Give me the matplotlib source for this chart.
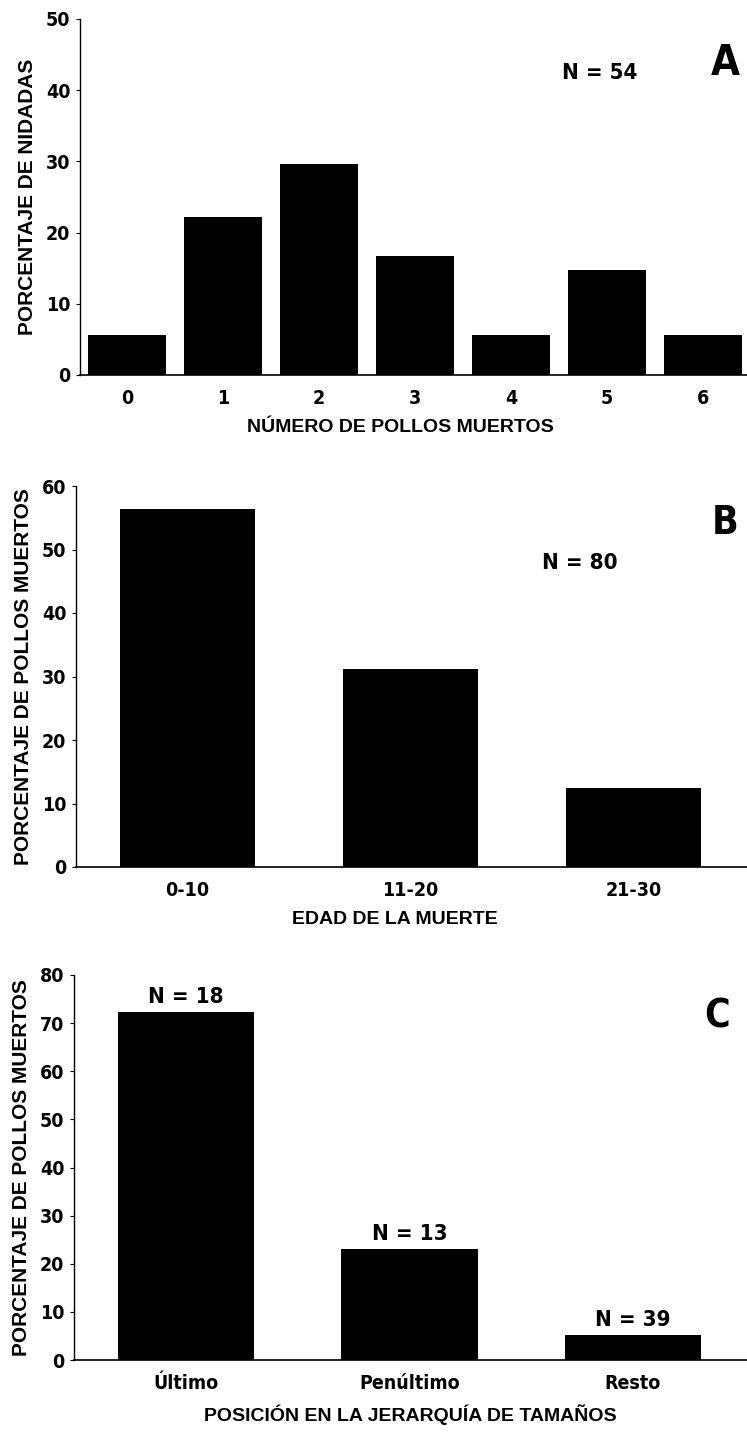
import matplotlib
matplotlib.use("Agg")
import matplotlib.pyplot as plt
from matplotlib import font_manager

# Panel A: number of dead chicks per brood
pollos_muertos = ["0", "1", "2", "3", "4", "5", "6"]
pct_nidadas = [5.6, 22.2, 29.6, 16.7, 5.6, 14.8, 5.6]

# Panel B: age at death (days)
edad_muerte = ["0-10", "11-20", "21-30"]
pct_edad = [56.3, 31.2, 12.5]

# Panel C: position in the size hierarchy
posicion = ["Último", "Penúltimo", "Resto"]
pct_posicion = [72.3, 23.1, 5.1]
n_posicion = [18, 13, 39]


def weight_of(f):
    w = f.weight
    if isinstance(w, str):
        w = font_manager.weight_dict.get(w, 400)
    return w


fonts = font_manager.fontManager.ttflist

# a bold narrow face for numbers and panel letters, if one is installed
bold_narrow = [f for f in fonts
               if ("Narrow" in f.name or "Condensed" in f.name or f.stretch == "condensed")
               and weight_of(f) >= 600 and f.style == "normal"]
# a plain bold sans for the axis titles
bold_sans = [f for f in fonts
             if f.name == "Liberation Sans" and weight_of(f) >= 700
             and f.style == "normal"]


def narrow(size):
    if bold_narrow:
        return font_manager.FontProperties(fname=bold_narrow[0].fname, size=size)
    return font_manager.FontProperties(family="Liberation Sans", weight="bold", size=size)


def heavy(size):
    if bold_sans:
        return font_manager.FontProperties(fname=bold_sans[0].fname, size=size)
    return font_manager.FontProperties(family="DejaVu Sans", weight="bold", size=size)


W, H = 747, 1433
fig = plt.figure(figsize=(W / 100, H / 100), dpi=100)


def px_axes(left, top, right, bottom):
    return fig.add_axes([left / W, 1 - bottom / H, (right - left) / W, (bottom - top) / H])


def style(ax, ymax, step, labels, xlabel, ylabel, xlabel_x=0.5):
    for s in ("top", "right"):
        ax.spines[s].set_visible(False)
    ax.spines["left"].set_linewidth(1.0)
    ax.spines["bottom"].set_linewidth(1.2)
    ax.set_ylim(0, ymax)
    ax.set_yticks(range(0, ymax + 1, step))
    ax.tick_params(axis="y", length=3, width=0.8, pad=4)
    ax.tick_params(axis="x", length=0, pad=10)
    ax.set_xticks(range(len(labels)))
    ax.set_xticklabels(labels)
    for t in ax.get_xticklabels() + ax.get_yticklabels():
        t.set_fontproperties(narrow(14))
    ax.set_xlabel(xlabel, fontproperties=heavy(14), labelpad=8)
    ax.xaxis.label.set_x(xlabel_x)
    ax.set_ylabel(ylabel, fontproperties=heavy(15), labelpad=6)


# --- A ---
axA = px_axes(80, 19, 747, 375)
axA.bar(range(len(pct_nidadas)), pct_nidadas, width=0.81, color="black")
axA.set_xlim(-0.49, 6.46)
style(axA, 50, 10, pollos_muertos, "NÚMERO DE POLLOS MUERTOS", "PORCENTAJE DE NIDADAS",
      xlabel_x=0.48)
axA.text(4.93, 42.4, "N = 54", ha="center", va="center", fontproperties=narrow(16))
axA.text(6.23, 43.8, "A", ha="center", va="center", fontproperties=narrow(30))

# --- B ---
axB = px_axes(76, 486, 747, 867)
axB.bar(range(len(pct_edad)), pct_edad, width=0.605, color="black")
axB.set_xlim(-0.5, 2.51)
style(axB, 60, 10, edad_muerte, "EDAD DE LA MUERTE", "PORCENTAJE DE POLLOS MUERTOS",
      xlabel_x=0.475)
axB.text(1.76, 47.9, "N = 80", ha="center", va="center", fontproperties=narrow(16))
axB.text(2.41, 54.2, "B", ha="center", va="center", fontproperties=narrow(28))

# --- C ---
axC = px_axes(74, 975, 747, 1360)
barsC = axC.bar(range(len(pct_posicion)), pct_posicion, width=0.61, color="black")
axC.set_xlim(-0.5, 2.51)
style(axC, 80, 10, posicion, "POSICIÓN EN LA JERARQUÍA DE TAMAÑOS",
      "PORCENTAJE DE POLLOS MUERTOS")
for bar, n in zip(barsC, n_posicion):
    axC.annotate(f"N = {n}", (bar.get_x() + bar.get_width() / 2, bar.get_height()),
                 xytext=(0, 11), textcoords="offset points", ha="center", va="center",
                 fontproperties=narrow(16))
axC.text(2.375, 71.3, "C", ha="center", va="center", fontproperties=narrow(28))

fig.savefig("out.png", dpi=100, facecolor="white")
